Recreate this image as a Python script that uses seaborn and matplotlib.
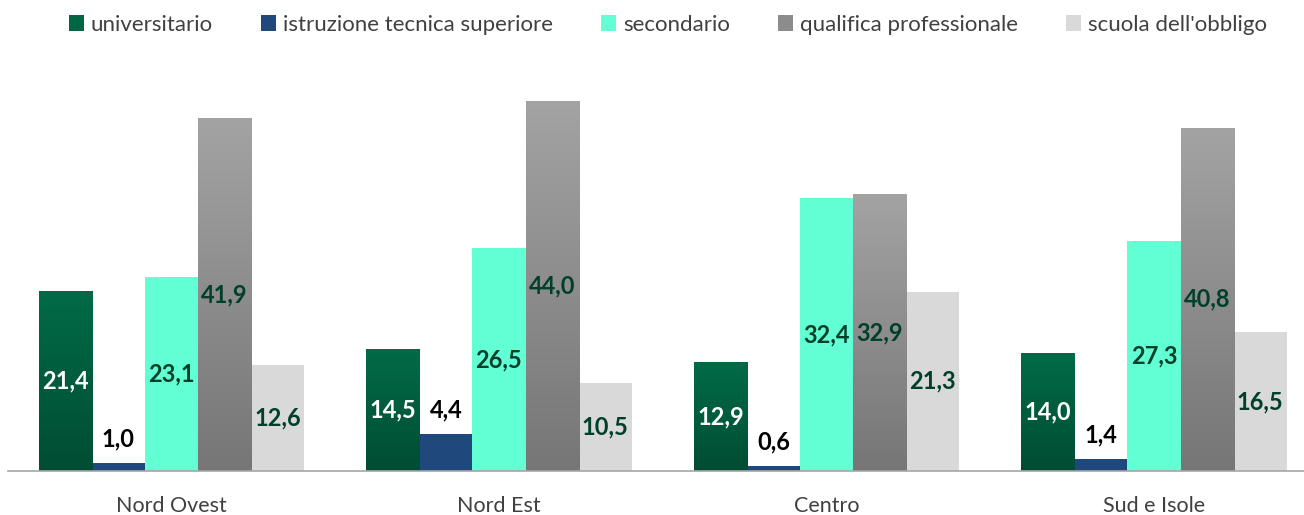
import numpy as np
import pandas as pd
import matplotlib
matplotlib.use("Agg")
import matplotlib.pyplot as plt
from matplotlib.patches import Patch
from matplotlib.colors import LinearSegmentedColormap
import seaborn as sns

# Titolo di studio richiesto, per ripartizione territoriale (%)
areas = ["Nord Ovest", "Nord Est", "Centro", "Sud e Isole"]
levels = ["universitario", "istruzione tecnica superiore", "secondario",
          "qualifica professionale", "scuola dell'obbligo"]
universitario = [21.4, 14.5, 12.9, 14.0]
its = [1.0, 4.4, 0.6, 1.4]
secondario = [23.1, 26.5, 32.4, 27.3]
qualifica = [41.9, 44.0, 32.9, 40.8]
obbligo = [12.6, 10.5, 21.3, 16.5]

series = [universitario, its, secondario, qualifica, obbligo]
df = pd.DataFrame({
    "area": areas * len(levels),
    "livello": [lv for lv in levels for _ in areas],
    "valore": [v for s in series for v in s],
})

colors = ["#006644", "#1F497D", "#63FFD4", "#8C8C8C", "#D9D9D9"]
palette = dict(zip(levels, colors))
# vertical shading for the bars that carry a gradient (top colour, bottom colour)
gradients = {
    "universitario": ("#006B47", "#004D33"),
    "qualifica professionale": ("#A3A3A3", "#767676"),
}
label_colors = ["white", "black", "#00402B", "#00402B", "#00402B"]

sns.set_theme(style="white")
plt.rcParams["font.family"] = ["Lato", "DejaVu Sans"]

fig = plt.figure(figsize=(13.04, 5.15), dpi=100)
W, H = 1304, 515
x0, x1 = 7.75, 1317.75
y_base, y_top = 471, 67
ax = fig.add_axes([x0 / W, 1 - y_base / H, (x1 - x0) / W, (y_base - y_top) / H])

sns.barplot(data=df, x="area", y="valore", hue="livello", order=areas,
            hue_order=levels, palette=palette, width=0.81, gap=0,
            saturation=1, ax=ax, legend=False, edgecolor="none")

ax.set_xlim(-0.5, 3.5)
ax.set_ylim(0, 48)

# gradient fill for selected series
for lv, container in zip(levels, ax.containers):
    if lv in gradients:
        cmap = LinearSegmentedColormap.from_list(lv, [gradients[lv][1], gradients[lv][0]])
        grad = np.linspace(0, 1, 256).reshape(-1, 1)
        for bar in container:
            bx, bw, bh = bar.get_x(), bar.get_width(), bar.get_height()
            im = ax.imshow(grad, cmap=cmap, aspect="auto", origin="lower",
                           extent=[bx, bx + bw, 0, bh], zorder=bar.get_zorder() + 0.1)
            im.set_clip_path(bar)
ax.set_xlim(-0.5, 3.5)
ax.set_ylim(0, 48)

def fmt(v):
    return f"{v:.1f}".replace(".", ",")

for i, (container, vals) in enumerate(zip(ax.containers, series)):
    if i == 1:
        ax.bar_label(container, labels=[fmt(v) for v in vals], label_type="edge",
                     padding=9, color=label_colors[i], fontsize=17, fontweight="bold",
                     zorder=5)
    else:
        ax.bar_label(container, labels=[fmt(v) for v in vals], label_type="center",
                     color=label_colors[i], fontsize=17, fontweight="bold", zorder=5)

# axes styling
for s in ["top", "right", "left"]:
    ax.spines[s].set_visible(False)
ax.spines["bottom"].set_color("#A6A6A6")
ax.spines["bottom"].set_linewidth(1.2)
ax.set_yticks([])
ax.set_xlabel("")
ax.set_ylabel("")
ax.set_xticks(range(len(areas)))
ax.set_xticklabels(areas, fontsize=15.5, color="#404040")
ax.tick_params(axis="x", which="major", length=0, pad=18)
ax.set_xticks([-0.5, 0.5, 1.5, 2.5, 3.5], minor=True)
ax.tick_params(axis="x", which="minor", length=7, width=1.2, color="#A6A6A6", direction="out")

handles = [Patch(facecolor=c, edgecolor="none") for c in colors]
fig.legend(handles, levels, loc="center", bbox_to_anchor=(0.512, 1 - 25 / H),
           ncol=5, frameon=False, fontsize=16, handlelength=0.7, handleheight=0.7,
           handletextpad=0.3, columnspacing=2.15, labelcolor="#404040")

fig.savefig("out.png", dpi=100)
